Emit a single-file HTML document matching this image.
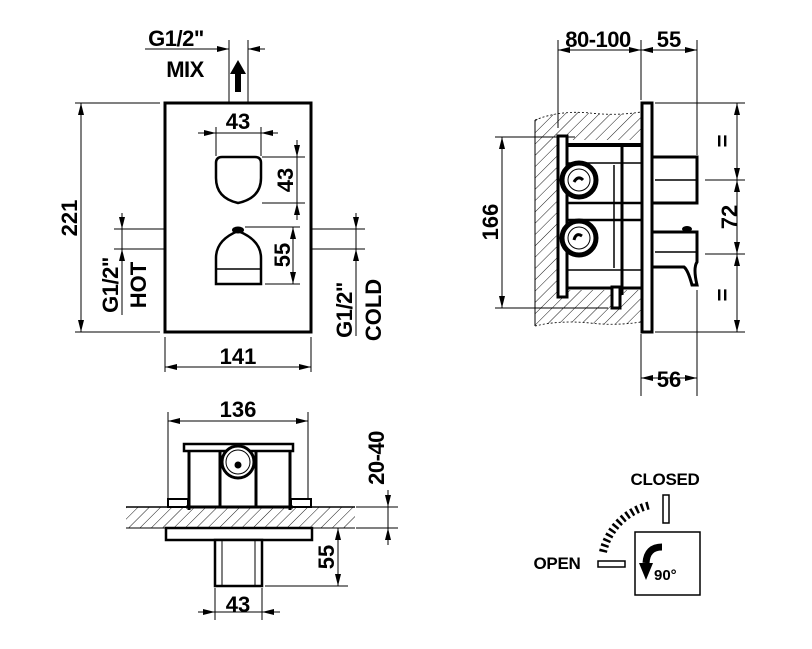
<!DOCTYPE html>
<html><head><meta charset="utf-8"><style>
html,body{margin:0;padding:0;background:#fff;}
svg{display:block;}
text{font-family:"Liberation Sans",Arial,sans-serif;font-weight:bold;fill:#000;}
</style></head><body>
<svg width="812" height="649" viewBox="0 0 812 649" xmlns="http://www.w3.org/2000/svg">
<defs>
<marker id="a" viewBox="0 0 12 6" refX="12" refY="3" markerWidth="12" markerHeight="6" markerUnits="userSpaceOnUse" orient="auto-start-reverse"><path d="M0,0 L12,3 L0,6 z" fill="#000"/></marker>
<pattern id="h" width="8" height="8" patternUnits="userSpaceOnUse" patternTransform="rotate(45)"><line x1="0" y1="0" x2="0" y2="8" stroke="#000" stroke-width="0.9"/></pattern>
</defs>
<g stroke="#000" fill="none">
<!-- ===== FRONT VIEW ===== -->
<rect x="165" y="103" width="146" height="229" stroke-width="3"/>
<line x1="229" y1="40" x2="229" y2="103" stroke-width="1"/>
<line x1="248" y1="40" x2="248" y2="103" stroke-width="1"/>
<line x1="145" y1="49" x2="229" y2="49" marker-end="url(#a)" stroke-width="1"/>
<line x1="265" y1="49" x2="248" y2="49" marker-end="url(#a)" stroke-width="1"/>
<path d="M235,92 L241,92 L241,74 L246,74 L238,60 L230,74 L235,74 z" fill="#000" stroke="none"/>
<line x1="75" y1="103" x2="160" y2="103" stroke-width="1"/>
<line x1="75" y1="332" x2="160" y2="332" stroke-width="1"/>
<line x1="81" y1="103" x2="81" y2="332" marker-start="url(#a)" marker-end="url(#a)" stroke-width="1"/>
<path d="M222,157 L255,157 Q261,157 261,163 L261,178 Q261,198 238,203 Q216,198 216,178 L216,163 Q216,157 222,157 z" stroke-width="2.5"/>
<line x1="216" y1="127" x2="216" y2="156" stroke-width="1"/>
<line x1="261" y1="127" x2="261" y2="156" stroke-width="1"/>
<line x1="198" y1="133" x2="216" y2="133" marker-end="url(#a)" stroke-width="1"/>
<line x1="216" y1="133" x2="261" y2="133" stroke-width="1"/>
<line x1="278" y1="133" x2="261" y2="133" marker-end="url(#a)" stroke-width="1"/>
<line x1="262" y1="157" x2="305" y2="157" stroke-width="1"/>
<line x1="262" y1="203" x2="305" y2="203" stroke-width="1"/>
<line x1="297" y1="140" x2="297" y2="157" marker-end="url(#a)" stroke-width="1"/>
<line x1="297" y1="157" x2="297" y2="203" stroke-width="1"/>
<line x1="297" y1="220" x2="297" y2="203" marker-end="url(#a)" stroke-width="1"/>
<path d="M216,284 L216,258 Q216,240 238,231 Q261,240 261,258 L261,284 z" stroke-width="2.5"/>
<line x1="216" y1="269" x2="261" y2="269" stroke-width="1.5"/>
<ellipse cx="238" cy="230" rx="6" ry="3.5" fill="#000" stroke="none"/>
<line x1="245" y1="227" x2="300" y2="227" stroke-width="1"/>
<line x1="265" y1="284" x2="300" y2="284" stroke-width="1"/>
<line x1="293" y1="227" x2="293" y2="284" marker-start="url(#a)" marker-end="url(#a)" stroke-width="1"/>
<line x1="114" y1="229" x2="165" y2="229" stroke-width="1"/>
<line x1="114" y1="249" x2="165" y2="249" stroke-width="1"/>
<line x1="122" y1="213" x2="122" y2="229" marker-end="url(#a)" stroke-width="1"/>
<line x1="122" y1="229" x2="122" y2="249" stroke-width="1"/>
<line x1="122" y1="315" x2="122" y2="249" marker-end="url(#a)" stroke-width="1"/>
<line x1="311" y1="229" x2="365" y2="229" stroke-width="1"/>
<line x1="311" y1="249" x2="365" y2="249" stroke-width="1"/>
<line x1="356" y1="213" x2="356" y2="229" marker-end="url(#a)" stroke-width="1"/>
<line x1="356" y1="229" x2="356" y2="249" stroke-width="1"/>
<line x1="356" y1="336" x2="356" y2="249" marker-end="url(#a)" stroke-width="1"/>
<line x1="165" y1="337" x2="165" y2="372" stroke-width="1"/>
<line x1="311" y1="337" x2="311" y2="372" stroke-width="1"/>
<line x1="165" y1="367" x2="311" y2="367" marker-start="url(#a)" marker-end="url(#a)" stroke-width="1"/>

<!-- ===== SIDE VIEW ===== -->
<path d="M535,120 Q560,110 590,113 Q615,116 641,112 L641,322 Q615,326 590,323 Q560,320 535,326 z" fill="url(#h)" stroke="none"/>
<path d="M535,120 Q560,110 590,113 Q615,116 641,112 M535,326 Q560,320 590,323 Q615,326 641,322" stroke-width="0.8" stroke-dasharray="2,2"/>
<line x1="535" y1="120" x2="535" y2="326" stroke-width="1"/>
<rect x="562" y="140" width="80" height="150" fill="#fff" stroke="none"/>
<rect x="558" y="136" width="9" height="161" stroke-width="3" fill="#fff"/>
<line x1="567" y1="145" x2="641" y2="145" stroke-width="4"/>
<line x1="622" y1="145" x2="622" y2="295" stroke-width="3"/>
<line x1="567" y1="163" x2="641" y2="163" stroke-width="1.5"/>
<line x1="567" y1="203" x2="641" y2="203" stroke-width="2.5"/>
<line x1="567" y1="220" x2="641" y2="220" stroke-width="2.5"/>
<line x1="567" y1="270" x2="641" y2="270" stroke-width="1.5"/>
<line x1="567" y1="288" x2="641" y2="288" stroke-width="3"/>
<line x1="614" y1="165" x2="614" y2="268" stroke-width="1.5"/>
<circle cx="579" cy="180" r="17" stroke-width="5" fill="#fff"/>
<circle cx="579" cy="180" r="11" stroke-width="1"/>
<circle cx="579" cy="238" r="17" stroke-width="5" fill="#fff"/>
<circle cx="579" cy="238" r="11" stroke-width="1"/>
<path d="M574,182 q4,-7 9,-2" stroke-width="3"/>
<path d="M574,240 q2,-8 8,-4" stroke-width="3"/>
<rect x="612" y="287" width="8" height="21" stroke-width="3" fill="#fff"/>
<rect x="642" y="103" width="10" height="229" stroke-width="3" fill="#fff"/>
<path d="M652,157 L697,157 L697,203 L652,203" stroke-width="3"/>
<line x1="655" y1="180" x2="697" y2="180" stroke-width="1.5"/>
<path d="M652,232 L697,232 L697,262 Q693,268 697,285 L692,285 Q688,270 684,267 L652,267" stroke-width="3"/>
<line x1="655" y1="252" x2="697" y2="252" stroke-width="1.5"/>
<ellipse cx="687" cy="229" rx="5" ry="3" fill="#000" stroke="none"/>
<line x1="558" y1="40" x2="558" y2="128" stroke-width="1"/>
<line x1="641" y1="40" x2="641" y2="100" stroke-width="1"/>
<line x1="697" y1="40" x2="697" y2="155" stroke-width="1"/>
<line x1="558" y1="50" x2="641" y2="50" marker-start="url(#a)" marker-end="url(#a)" stroke-width="1"/>
<line x1="641" y1="50" x2="697" y2="50" marker-start="url(#a)" marker-end="url(#a)" stroke-width="1"/>
<line x1="655" y1="103" x2="745" y2="103" stroke-width="1"/>
<line x1="705" y1="180" x2="745" y2="180" stroke-width="1"/>
<line x1="705" y1="254" x2="745" y2="254" stroke-width="1"/>
<line x1="655" y1="332" x2="745" y2="332" stroke-width="1"/>
<line x1="737" y1="103" x2="737" y2="180" marker-start="url(#a)" marker-end="url(#a)" stroke-width="1"/>
<line x1="737" y1="180" x2="737" y2="254" marker-start="url(#a)" marker-end="url(#a)" stroke-width="1"/>
<line x1="737" y1="254" x2="737" y2="332" marker-start="url(#a)" marker-end="url(#a)" stroke-width="1"/>
<line x1="495" y1="137" x2="575" y2="137" stroke-width="1"/>
<line x1="495" y1="308" x2="608" y2="308" stroke-width="1"/>
<line x1="502" y1="137" x2="502" y2="308" marker-start="url(#a)" marker-end="url(#a)" stroke-width="1"/>
<line x1="641" y1="334" x2="641" y2="396" stroke-width="1"/>
<line x1="697" y1="290" x2="697" y2="396" stroke-width="1"/>
<line x1="641" y1="378" x2="697" y2="378" marker-start="url(#a)" marker-end="url(#a)" stroke-width="1"/>

<!-- ===== BOTTOM VIEW ===== -->
<rect x="126" y="507" width="229" height="21" fill="url(#h)" stroke="none"/>
<line x1="126" y1="507" x2="355" y2="507" stroke-width="1.5"/>
<line x1="126" y1="528" x2="355" y2="528" stroke-width="1"/>
<rect x="183" y="447" width="111" height="60" fill="#fff" stroke="none"/>
<rect x="184" y="444" width="109" height="7" stroke-width="2.5" fill="#fff"/>
<line x1="189" y1="451" x2="189" y2="510" stroke-width="3"/>
<line x1="290" y1="451" x2="290" y2="510" stroke-width="3"/>
<line x1="220" y1="451" x2="220" y2="507" stroke-width="3"/>
<line x1="256" y1="451" x2="256" y2="507" stroke-width="3"/>
<rect x="168" y="499" width="20" height="8" stroke-width="2" fill="#fff"/>
<rect x="291" y="499" width="20" height="8" stroke-width="2" fill="#fff"/>
<line x1="186" y1="507" x2="293" y2="507" stroke-width="3"/>
<circle cx="238" cy="462" r="16" stroke-width="3" fill="#fff"/>
<circle cx="238" cy="462" r="12" stroke-width="1"/>
<circle cx="238" cy="465" r="3" fill="#000"/>
<rect x="166" y="528" width="146" height="12" stroke-width="2.5" fill="#fff"/>
<rect x="215" y="540" width="47" height="46" stroke-width="2.5" fill="#fff"/>
<line x1="222" y1="540" x2="222" y2="586" stroke-width="1"/>
<line x1="255" y1="540" x2="255" y2="586" stroke-width="1"/>
<line x1="168" y1="412" x2="168" y2="500" stroke-width="1"/>
<line x1="308" y1="412" x2="308" y2="500" stroke-width="1"/>
<line x1="168" y1="421" x2="308" y2="421" marker-start="url(#a)" marker-end="url(#a)" stroke-width="1"/>
<line x1="215" y1="588" x2="215" y2="620" stroke-width="1"/>
<line x1="262" y1="588" x2="262" y2="620" stroke-width="1"/>
<line x1="198" y1="612" x2="215" y2="612" marker-end="url(#a)" stroke-width="1"/>
<line x1="215" y1="612" x2="262" y2="612" stroke-width="1"/>
<line x1="280" y1="612" x2="262" y2="612" marker-end="url(#a)" stroke-width="1"/>
<line x1="356" y1="507" x2="398" y2="507" stroke-width="1"/>
<line x1="356" y1="528" x2="398" y2="528" stroke-width="1"/>
<line x1="388" y1="490" x2="388" y2="507" marker-end="url(#a)" stroke-width="1"/>
<line x1="388" y1="507" x2="388" y2="528" stroke-width="1"/>
<line x1="388" y1="545" x2="388" y2="528" marker-end="url(#a)" stroke-width="1"/>
<line x1="265" y1="586" x2="348" y2="586" stroke-width="1"/>
<line x1="338" y1="528" x2="338" y2="586" marker-start="url(#a)" marker-end="url(#a)" stroke-width="1"/>

<!-- ===== ICON ===== -->
<rect x="663" y="495" width="6" height="28" stroke-width="1.5"/>
<rect x="598" y="561" width="27" height="6" stroke-width="1.5"/>
<rect x="635" y="532" width="65" height="63" stroke-width="1.5"/>
<path d="M603,552 A62,62 0 0 1 651,505" stroke-width="8" stroke-dasharray="2.5,3"/>
<path d="M662,547 Q647,547 646,563" stroke-width="7"/>
<path d="M639,563 L653,563 L646,580 z" fill="#000" stroke="none"/>
</g>

<!-- TEXT -->
<text x="176" y="46" font-size="22" text-anchor="middle" letter-spacing="-0.5">G1/2"</text>
<text x="185" y="77" font-size="22" text-anchor="middle" letter-spacing="-0.5">MIX</text>
<text x="238" y="129" font-size="22" text-anchor="middle">43</text>
<text transform="translate(293,180) rotate(-90)" font-size="22" text-anchor="middle">43</text>
<text transform="translate(290,255) rotate(-90)" font-size="22" text-anchor="middle">55</text>
<text transform="translate(77,218) rotate(-90)" font-size="22" text-anchor="middle">221</text>
<text transform="translate(118,285) rotate(-90)" font-size="22" text-anchor="middle" letter-spacing="-0.5">G1/2"</text>
<text transform="translate(146,285) rotate(-90)" font-size="22" text-anchor="middle">HOT</text>
<text transform="translate(352,310) rotate(-90)" font-size="22" text-anchor="middle" letter-spacing="-0.5">G1/2"</text>
<text transform="translate(381,310) rotate(-90)" font-size="22" text-anchor="middle">COLD</text>
<text x="238" y="364" font-size="22" text-anchor="middle">141</text>
<text x="598" y="47" font-size="22" text-anchor="middle" letter-spacing="-0.5">80-100</text>
<text x="669" y="47" font-size="22" text-anchor="middle">55</text>
<text transform="translate(730,141) rotate(-90)" font-size="22" text-anchor="middle">=</text>
<text transform="translate(737,217) rotate(-90)" font-size="22" text-anchor="middle">72</text>
<text transform="translate(730,295) rotate(-90)" font-size="22" text-anchor="middle">=</text>
<text transform="translate(498,222) rotate(-90)" font-size="22" text-anchor="middle">166</text>
<text x="669" y="387" font-size="22" text-anchor="middle">56</text>
<text x="238" y="417" font-size="22" text-anchor="middle">136</text>
<text x="238" y="612" font-size="22" text-anchor="middle">43</text>
<text transform="translate(384,458) rotate(-90)" font-size="22" text-anchor="middle" letter-spacing="-0.5">20-40</text>
<text transform="translate(334,557) rotate(-90)" font-size="22" text-anchor="middle">55</text>
<text x="665" y="485" font-size="17" text-anchor="middle" letter-spacing="-0.3">CLOSED</text>
<text x="557" y="569" font-size="17" text-anchor="middle" letter-spacing="-0.3">OPEN</text>
<text x="654" y="580" font-size="15">90°</text>
</svg>
</body></html>
